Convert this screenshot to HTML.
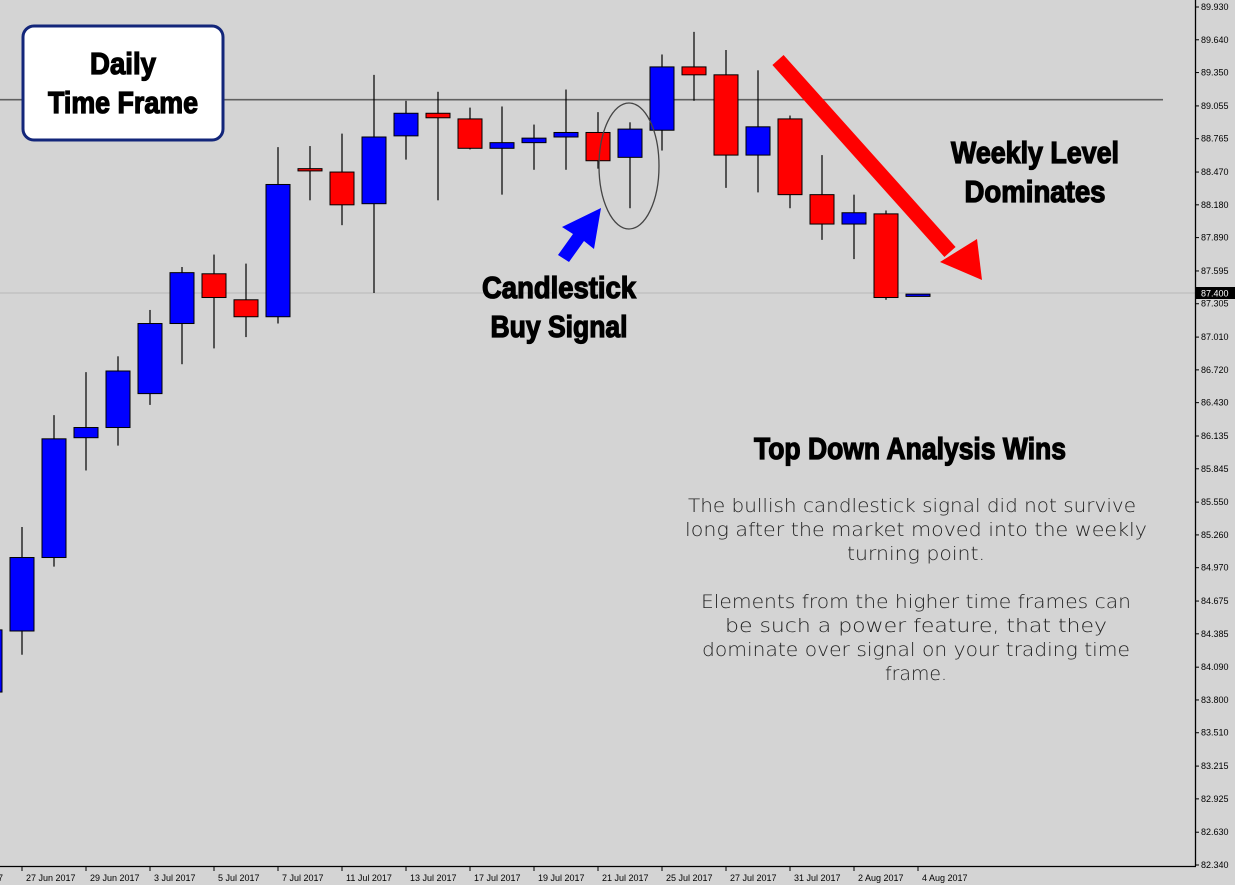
<!DOCTYPE html>
<html><head><meta charset="utf-8">
<style>
html,body{margin:0;padding:0;background:#d4d4d4;}
svg{display:block;}
.ax{font-family:"Liberation Sans",sans-serif;font-size:9px;fill:#000;}
.big{font-family:"Liberation Sans Narrow","Liberation Sans",sans-serif;font-weight:bold;fill:#000;stroke:#000;stroke-width:1.3px;}
.para{font-family:"DejaVu Sans","Liberation Sans",sans-serif;font-size:19px;fill:#222;font-weight:300;}
</style></head>
<body>
<svg id="chart" width="1235" height="885" viewBox="0 0 1235 885">
<rect x="0" y="0" width="1235" height="885" fill="#d4d4d4"/>
<g id="marks"></g>
<g id="axes"></g>
<g>
  <rect x="23" y="26" width="200" height="114" rx="11" fill="#fff" stroke="#13267a" stroke-width="3"/>
  <text class="big" x="123" y="74" font-size="31" text-anchor="middle" textLength="66" lengthAdjust="spacingAndGlyphs">Daily</text>
  <text class="big" x="123" y="113" font-size="31" text-anchor="middle" textLength="150" lengthAdjust="spacingAndGlyphs">Time Frame</text>
  <ellipse cx="629" cy="166" rx="30" ry="63" fill="none" stroke="#444" stroke-width="1.3"/>
  <polygon points="601,208 594,249 584,241 569,262 558,255 573,234 562,227" fill="#0000ff"/>
  <line x1="778" y1="60" x2="950" y2="252" stroke="#ff0000" stroke-width="15"/>
  <polygon points="940,262 977,239 982,280" fill="#ff0000"/>
  <text class="big" x="559" y="298" font-size="31" text-anchor="middle" textLength="154" lengthAdjust="spacingAndGlyphs">Candlestick</text>
  <text class="big" x="559" y="337" font-size="31" text-anchor="middle" textLength="137" lengthAdjust="spacingAndGlyphs">Buy Signal</text>
  <text class="big" x="1035" y="163" font-size="31" text-anchor="middle" textLength="168" lengthAdjust="spacingAndGlyphs">Weekly Level</text>
  <text class="big" x="1035" y="202" font-size="31" text-anchor="middle" textLength="141" lengthAdjust="spacingAndGlyphs">Dominates</text>
  <text class="big" x="910" y="459" font-size="31" text-anchor="middle" textLength="312" lengthAdjust="spacingAndGlyphs">Top Down Analysis Wins</text>
  <g>
  <text class="para" x="912" y="512" text-anchor="middle" textLength="448" lengthAdjust="spacingAndGlyphs">The bullish candlestick signal did not survive</text>
  <text class="para" x="916" y="536" text-anchor="middle" textLength="462" lengthAdjust="spacingAndGlyphs">long after the market moved into the weekly</text>
  <text class="para" x="916" y="560" text-anchor="middle" textLength="138" lengthAdjust="spacingAndGlyphs">turning point.</text>
  <text class="para" x="916" y="608" text-anchor="middle" textLength="430" lengthAdjust="spacingAndGlyphs">Elements from the higher time frames can</text>
  <text class="para" x="916" y="632" text-anchor="middle" textLength="382" lengthAdjust="spacingAndGlyphs">be such a power feature, that they</text>
  <text class="para" x="916" y="656" text-anchor="middle" textLength="428" lengthAdjust="spacingAndGlyphs">dominate over signal on your trading time</text>
  <text class="para" x="916" y="680" text-anchor="middle" textLength="62" lengthAdjust="spacingAndGlyphs">frame.</text>
  </g>
</g>
</svg>
<script>
const opens  = [83.87,84.41,85.06,86.12,86.21,86.51,87.13,87.57,87.34,87.19,88.50,88.47,88.19,88.79,88.99,88.94,88.68,88.73,88.78,88.82,88.60,88.84,89.40,89.33,88.62,88.94,88.27,88.01,88.10,87.37];
const highs  = [84.42,85.33,86.32,86.70,86.84,87.25,87.63,87.74,87.66,88.69,88.70,88.81,89.33,89.10,89.18,89.04,89.05,88.89,89.20,89.00,88.91,89.51,89.71,89.55,89.37,88.97,88.62,88.27,88.13,87.39];
const lows   = [83.87,84.20,84.98,85.83,86.05,86.41,86.77,86.91,87.01,87.13,88.22,88.00,87.40,88.58,88.22,88.67,88.27,88.49,88.49,88.50,88.15,88.66,89.10,88.33,88.29,88.15,87.87,87.70,87.34,87.37];
const closes = [84.42,85.06,86.11,86.21,86.71,87.13,87.58,87.36,87.19,88.36,88.48,88.18,88.78,88.99,88.95,88.68,88.73,88.77,88.82,88.57,88.85,89.40,89.33,88.62,88.87,88.27,88.01,88.11,87.36,87.39];
const priceTicks = ["89.930","89.640","89.350","89.055","88.765","88.470","88.180","87.890","87.595","87.305","87.010","86.720","86.430","86.135","85.845","85.550","85.260","84.970","84.675","84.385","84.090","83.800","83.510","83.215","82.925","82.630","82.340"];
const dateLabels = ["27 Jun 2017","29 Jun 2017","3 Jul 2017","5 Jul 2017","7 Jul 2017","11 Jul 2017","13 Jul 2017","17 Jul 2017","19 Jul 2017","21 Jul 2017","25 Jul 2017","27 Jul 2017","31 Jul 2017","2 Aug 2017","4 Aug 2017"];
const resistance = 89.11;
const currentPrice = 87.40;

const NS="http://www.w3.org/2000/svg";
const yTop=7, yBot=865, pMax=89.93, pMin=82.34;
function y(p){return yTop+(pMax-p)*(yBot-yTop)/(pMax-pMin);}
function x(i){return -10+i*32;}
function mk(tag,attrs,parent){const e=document.createElementNS(NS,tag);for(const k in attrs)e.setAttribute(k,attrs[k]);parent.appendChild(e);return e;}
const marks=document.getElementById('marks'), axes=document.getElementById('axes');

let l=mk('line',{x1:0,x2:1195,y1:y(currentPrice),y2:y(currentPrice),stroke:'#b8b8b8','stroke-width':1},marks);


l=mk('line',{x1:0,x2:1163,y1:y(resistance),y2:y(resistance),stroke:'#606060','stroke-width':1.6},marks);



for(let i=0;i<opens.length;i++){
  const g=mk('g',{},marks);
  
  
  const cx=x(i);
  if(highs[i]>lows[i]) mk('line',{x1:cx,x2:cx,y1:y(highs[i]),y2:y(lows[i]),stroke:'#000','stroke-width':1.2},g);
  const up=closes[i]>=opens[i];
  const t=y(Math.max(opens[i],closes[i])), b=y(Math.min(opens[i],closes[i]));
  mk('rect',{x:cx-12,y:t,width:24,height:Math.max(b-t,1.5),fill:up?'#0000ff':'#ff0000',stroke:'#000','stroke-width':1},g);
}

l=mk('line',{x1:1195.5,x2:1195.5,y1:0,y2:866,stroke:'#000','stroke-width':1.3},axes);


l=mk('line',{x1:0,x2:1196,y1:866.5,y2:866.5,stroke:'#000','stroke-width':1.3},axes);


priceTicks.forEach(v=>{
  const yy=y(parseFloat(v));
  mk('line',{x1:1195,x2:1199,y1:yy,y2:yy,stroke:'#000'},axes);
  const t=mk('text',{x:1201,y:yy+3,class:'ax'},axes);
  t.textContent=v;
  
  
});
const cy=y(currentPrice);
let r=mk('rect',{x:1196,y:cy-6,width:39,height:12,fill:'#000'},axes);


let ct=mk('text',{x:1201,y:cy+3.5,class:'ax',style:'fill:#fff'},axes);
ct.textContent=currentPrice.toFixed(3);


let ft=mk('text',{x:-2,y:881,class:'ax'},axes);ft.textContent='7';


dateLabels.forEach((d,k)=>{
  const xx=x(1+2*k);
  mk('line',{x1:xx,x2:xx,y1:866,y2:871,stroke:'#000'},axes);
  const t=mk('text',{x:xx+4,y:881,class:'ax'},axes);
  t.textContent=d;
  
  
});
</script>
</body></html>
